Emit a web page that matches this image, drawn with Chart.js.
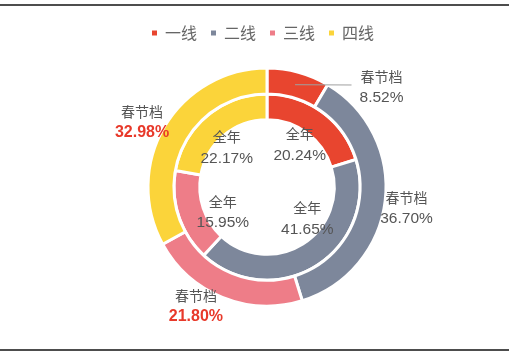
<!DOCTYPE html>
<html><head><meta charset="utf-8">
<script src="https://cdn.jsdelivr.net/npm/chart.js@4/dist/chart.umd.min.js"></script>
<style>
html,body{margin:0;padding:0;background:#fff;}
#wrap{position:relative;width:509px;height:356px;}
</style>
</head><body>
<div id="wrap"><canvas id="c"></canvas></div>
<script>
// ---- data ----
const categories = ['一线', '二线', '三线', '四线'];
const springValues = [8.52, 36.70, 21.80, 32.98];   // 春节档 (outer ring)
const yearValues = [20.24, 41.65, 15.95, 22.17];    // 全年 (inner ring)
const springName = '春节档';
const yearName = '全年';

// ---- style ----
const colors = ['#e8452f', '#7d879b', '#ee7d88', '#fbd43a'];
const labelLayout = {
  0: { r: 140, offsets: [[77.5, 35], [0.5, 4.7], [-18.6, -10.8], [-4.5, 6.3]], emphasis: [false, false, true, true], leader: [true, false, false, false] },
  1: { r: 55, offsets: [[0, 2], [11, -15], [8, 7.5], [-5, 3]], emphasis: [false, false, false, false], leader: [false, false, false, false] }
};

const framePlugin = {
  id: 'frame',
  afterLayout(chart) {
    if (chart.legend) { chart.legend.left -= 4; chart.legend.right -= 4; }
  },
  beforeDraw(chart) {
    const ctx = chart.ctx;
    ctx.save();
    ctx.fillStyle = '#fff';
    ctx.fillRect(0, 0, chart.width, chart.height);
    ctx.fillStyle = '#4d4d4d';
    ctx.fillRect(0, 4, chart.width, 2);
    ctx.fillRect(0, 349, chart.width, 2);
    ctx.restore();
  }
};

const labelPlugin = {
  id: 'ringLabels',
  afterDatasetsDraw(chart) {
    const ctx = chart.ctx;
    ctx.save();
    ctx.textAlign = 'center';
    ctx.textBaseline = 'middle';
    chart.data.datasets.forEach((ds, di) => {
      const meta = chart.getDatasetMeta(di);
      const lay = labelLayout[di];
      meta.data.forEach((arc, i) => {
        const p = arc.getProps(['x', 'y', 'startAngle', 'endAngle'], true);
        const a = (p.startAngle + p.endAngle) / 2;
        const cx = p.x + lay.r * Math.cos(a) + lay.offsets[i][0];
        const cy = p.y + lay.r * Math.sin(a) + lay.offsets[i][1];
        if (lay.leader[i]) {
          const tp = arc.tooltipPosition(true);
          ctx.strokeStyle = '#a0a0a0';
          ctx.lineWidth = 1;
          ctx.beginPath();
          ctx.moveTo(tp.x, tp.y);
          ctx.lineTo(cx - 30, cy - 2);
          ctx.stroke();
        }
        ctx.fillStyle = '#555';
        ctx.font = '14px "Noto Sans CJK SC"';
        ctx.fillText(ds.label, cx, cy - 10.75);
        if (lay.emphasis[i]) {
          ctx.fillStyle = '#e8392a';
          ctx.font = 'bold 16px "Liberation Sans"';
        } else {
          ctx.fillStyle = '#555';
          ctx.font = '15.5px "Liberation Sans"';
        }
        ctx.fillText(ds.data[i].toFixed(2) + '%', cx, cy + 10.75);
      });
    });
    ctx.restore();
  }
};

new Chart(document.getElementById('c'), {
  type: 'doughnut',
  data: {
    labels: categories,
    datasets: [
      { label: springName, data: springValues, backgroundColor: colors, borderColor: '#fff', borderWidth: 3 },
      { label: yearName, data: yearValues, backgroundColor: colors, borderColor: '#fff', borderWidth: 3 }
    ]
  },
  options: {
    responsive: true,
    maintainAspectRatio: false,
    animation: false,
    radius: 119,
    cutout: 76,
    layout: { padding: { left: 25, right: 0, top: 11, bottom: 33 } },
    plugins: {
      tooltip: { enabled: false },
      legend: {
        position: 'top',
        labels: {
          usePointStyle: true,
          pointStyle: 'rect',
          boxWidth: 5,
          boxHeight: 5,
          padding: 14,
          color: '#666',
          font: { size: 16, family: '"Noto Sans CJK SC"' },
          generateLabels(chart) {
            return Chart.overrides.doughnut.plugins.legend.labels.generateLabels(chart)
              .map(l => Object.assign({}, l, { lineWidth: 0 }));
          }
        }
      }
    }
  },
  plugins: [framePlugin, labelPlugin]
});
</script>
</body></html>
